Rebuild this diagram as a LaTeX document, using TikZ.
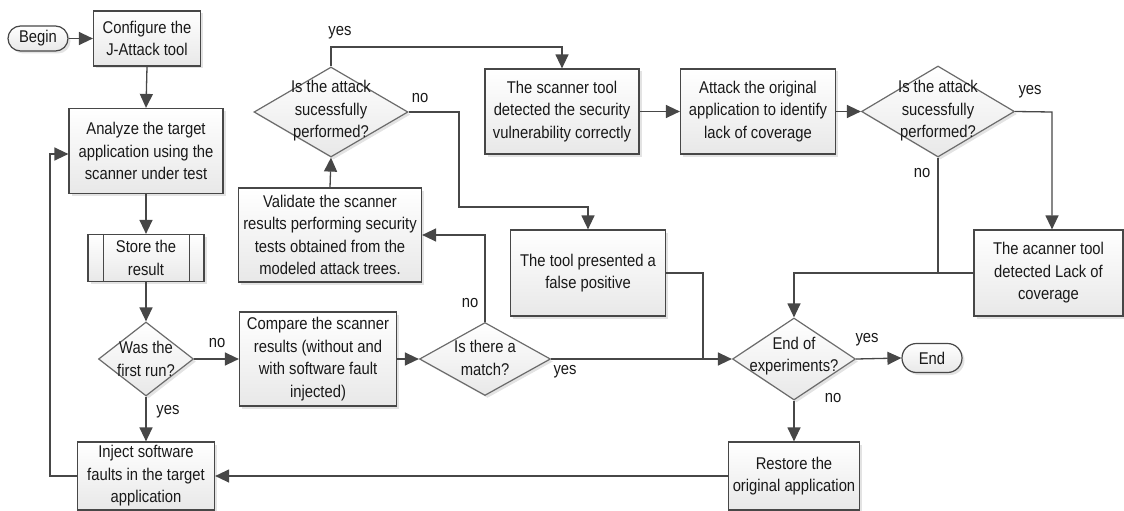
\documentclass[tikz,border=0pt]{standalone}
\usepackage{fontspec}
\setmainfont{Liberation Sans}[FakeStretch=0.87]
\usetikzlibrary{shapes.geometric,shapes.misc,shadows,arrows.meta,calc}
\begin{document}
\begin{tikzpicture}[x=1pt,y=-1pt,
  font=\fontsize{17}{22.5}\selectfont,
  every node/.style={text=black!90},
  line/.style={draw=black!72, line width=1.3pt},
  arr/.style={line, -{Triangle[length=14pt,width=13pt]}},
  shd/.style={drop shadow={opacity=0.22,shadow xshift=2.5pt,shadow yshift=-2.5pt}},
  box/.style={rectangle, draw=black!72, line width=1.2pt, top color=white, bottom color=black!9, shd, align=center, inner sep=1pt},
  dia/.style={diamond, draw=black!58, line width=1.2pt, top color=white, bottom color=black!9, shd, inner sep=0pt},
  term/.style={rounded rectangle, draw=black!72, line width=1.2pt, top color=white, bottom color=black!9, shd, inner sep=1pt},
  txt/.style={align=center, inner sep=0pt},
  lbl/.style={inner sep=0pt}]
\useasboundingbox (0,0) rectangle (1124,511);

% terminals
\node[term, minimum width=62pt, minimum height=25pt] (begin) at (38,38.5) {Begin};
\node[term, minimum width=62pt, minimum height=29pt] (end) at (932,358) {End};

% boxes
\node[box, minimum width=107pt, minimum height=55pt] (cfg) at (147,38.5) {Configure the\\J-Attack tool};
\node[box, minimum width=154pt, minimum height=85pt] (ana) at (146,151) {Analyze the target\\application using the\\scanner under test};
\node[box, minimum width=116pt, minimum height=47pt] (store) at (146,258) {Store the\\result};
\draw[draw=black!72, line width=1.2pt] ([xshift=16pt]store.north west) -- ([xshift=16pt]store.south west);
\draw[draw=black!72, line width=1.2pt] ([xshift=-15pt]store.north east) -- ([xshift=-15pt]store.south east);
\node[box, minimum width=137pt, minimum height=68pt] (inj) at (146,476) {Inject software\\faults in the target\\application};
\node[box, minimum width=157pt, minimum height=94pt] (cmp) at (318,359) {Compare the scanner\\results (without and\\with software fault\\injected)};
\node[box, minimum width=183pt, minimum height=94pt] (val) at (330,235) {Validate the scanner\\results performing security\\tests obtained from the\\modeled attack trees.};
\node[box, minimum width=154pt, minimum height=85pt] (scan) at (562,111.5) {The scanner tool\\detected the security\\vulnerability correctly};
\node[box, minimum width=155pt, minimum height=86pt] (fp) at (588,273) {The tool presented a\\false positive};
\node[box, minimum width=155pt, minimum height=85pt] (atk) at (758,111.5) {Attack the original\\application to identify\\lack of coverage};
\node[box, minimum width=149pt, minimum height=86pt] (lack) at (1048.5,273) {The acanner tool\\detected Lack of\\coverage};
\node[box, minimum width=131pt, minimum height=68pt] (rest) at (794,476) {Restore the\\original application};

% diamonds
\node[dia, minimum width=95pt, minimum height=74pt] (first) at (146,359) {};
\node[txt] (firstt) at (146,359) {Was the\\first run?};
\node[dia, minimum width=131pt, minimum height=73pt] (match) at (485,359) {};
\node[txt] (matcht) at (485,358) {Is there a\\match?};
\node[dia, minimum width=154pt, minimum height=90pt] (q1) at (331,112) {};
\node[txt] (q1t) at (331,111) {Is the attack\\sucessfully\\performed?};
\node[dia, minimum width=153pt, minimum height=91pt] (q2) at (938,111.5) {};
\node[txt] (q2t) at (938,111) {Is the attack\\sucessfully\\performed?};
\node[dia, minimum width=123pt, minimum height=82pt] (endq) at (794,359) {};
\node[txt] (endqt) at (794,356) {End of\\experiments?};

% labels
\node[lbl] (l1) at (217,343) {no};
\node[lbl] (l2) at (168,412) {yes};
\node[lbl] (l3) at (470,303) {no};
\node[lbl] (l4) at (565,372) {yes};
\node[lbl] (l5) at (340,33) {yes};
\node[lbl] (l6) at (420,98) {no};
\node[lbl] (l7) at (1030,92) {yes};
\node[lbl] (l8) at (922,173) {no};
\node[lbl] (l9) at (867,340) {yes};
\node[lbl] (l10) at (833,398) {no};

% coordinates
\coordinate (lp) at (50,154);
\coordinate (c1) at (331,47);
\coordinate (c2) at (459,207);
\coordinate (c3) at (1052,112);
\coordinate (j1) at (938,274);
\coordinate (j2) at (703,359);

% connectors
\draw[arr] (begin.east) -- (begin.east -| cfg.west);
\draw[arr] (cfg.south) -- (ana.north);
\draw[arr] (ana.south) -- (store.north);
\draw[arr] (store.south) -- (first.north);
\draw[arr] (first.east) -- (cmp.west);
\draw[arr] (first.south) -- (inj.north);
\draw[arr] (inj.west) -| (lp) -- (lp -| ana.west);
\draw[arr] (cmp.east) -- (match.west);
\draw[arr] (match.north) |- (val.east);
\draw[arr] (val.north) -- (q1.south);
\draw[arr] (q1.north) -- (c1) -| (scan.north);
\draw[arr] (q1.east) -| (c2) -| (fp.north);
\draw[arr] (scan.east) -- (atk.west);
\draw[arr] (atk.east) -- (q2.west);
\draw[arr] (q2.east) -- (c3) -- (c3 |- lack.north);
\draw[line] (q2.south) -- (j1);
\draw[arr] (lack.west) -- (lack.west -| endq.north) -- (endq.north);
\draw[line] (fp.east) -| (j2);
\draw[arr] (match.east) -- (endq.west);
\draw[arr] (endq.east) -- (end.west);
\draw[arr] (endq.south) -- (rest.north);
\draw[arr] (rest.west) -- (inj.east);
\end{tikzpicture}
\end{document}
